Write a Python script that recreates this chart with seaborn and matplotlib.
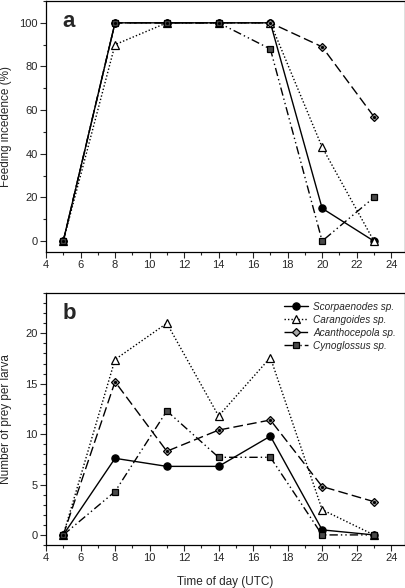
import matplotlib
matplotlib.use("Agg")
import matplotlib.pyplot as plt
from matplotlib.ticker import MultipleLocator
from matplotlib.lines import Line2D
import seaborn as sns
import pandas as pd

hours = [5, 8, 11, 14, 17, 20, 23]
species = ["Scorpaenodes sp.", "Carangoides sp.", "Acanthocepola sp.", "Cynoglossus sp."]

feed_scorpaenodes = [0, 100, 100, 100, 100, 15, 0]
feed_carangoides = [0, 90, 100, 100, 100, 43, 0]
feed_acanthocepola = [0, 100, 100, 100, 100, 89, 57]
feed_cynoglossus = [0, 100, 100, 100, 88, 0, 20]

prey_scorpaenodes = [0, 7.6, 6.8, 6.8, 9.8, 0.5, 0]
prey_carangoides = [0, 17.4, 21.0, 11.8, 17.6, 2.5, 0]
prey_acanthocepola = [0, 15.2, 8.3, 10.4, 11.4, 4.8, 3.3]
prey_cynoglossus = [0, 4.3, 12.3, 7.7, 7.7, 0, 0]

feed = [feed_scorpaenodes, feed_carangoides, feed_acanthocepola, feed_cynoglossus]
prey = [prey_scorpaenodes, prey_carangoides, prey_acanthocepola, prey_cynoglossus]

rows = []
for sp, fv, pv in zip(species, feed, prey):
    for h, f, p in zip(hours, fv, pv):
        rows.append({"species": sp, "hour": h, "feed": f, "prey": p})
df = pd.DataFrame(rows)

sns.set_theme(style="ticks")
plt.rcParams["font.family"] = ["Liberation Sans", "DejaVu Sans"]

styles = {
    "Scorpaenodes sp.": dict(ls="-", marker="o", mfc="black", ms=5.2, dashes=None),
    "Carangoides sp.": dict(ls=":", marker="^", mfc="white", ms=5.2, dashes=(1, 1.5)),
    "Acanthocepola sp.": dict(ls="--", marker="D", mfc="#a8a8a8", ms=4.3, dashes=(7, 3)),
    "Cynoglossus sp.": dict(ls="-.", marker="s", mfc="#4a4a4a", ms=4.3, dashes=(6, 2.2, 1, 2.2, 1, 2.2)),
}

fig = plt.figure(figsize=(4.06, 5.88), dpi=100)
axa = fig.add_axes([46/406, 1 - 252/588, 359/406, 251/588])
axb = fig.add_axes([46/406, 1 - 545/588, 359/406, 252/588])

def draw(ax, col):
    for sp in species:
        st = styles[sp]
        d = df[df.species == sp]
        sns.lineplot(data=d, x="hour", y=col, ax=ax, color="black", lw=1.0,
                     marker=st["marker"], markersize=st["ms"], markerfacecolor=st["mfc"],
                     markeredgecolor="black", markeredgewidth=0.9, label=sp, legend=False)
        ln = ax.lines[-1]
        if st["dashes"] is not None:
            ln.set_dashes(st["dashes"])
        if sp == "Acanthocepola sp.":
            ax.plot(d["hour"], d[col], ls="none", marker="o", ms=1.3, color="black", zorder=5)
    ax.set_xlim(4, 24.8)
    ax.xaxis.set_major_locator(MultipleLocator(2))
    ax.xaxis.set_minor_locator(MultipleLocator(1))
    ax.tick_params(axis="both", which="major", direction="out", length=4, width=0.8,
                   labelsize=8, top=False, right=False, pad=2)
    ax.tick_params(axis="both", which="minor", direction="out", length=2.5, width=0.8,
                   top=False, right=False)
    for s in ax.spines.values():
        s.set_linewidth(0.9)
        s.set_color("black")

draw(axa, "feed")
axa.set_ylim(-5, 110)
axa.yaxis.set_major_locator(MultipleLocator(20))
axa.yaxis.set_minor_locator(MultipleLocator(10))
axa.set_ylabel("Feeding incedence (%)", fontsize=8.5)
axa.yaxis.set_label_coords(-0.094, 0.5)
axa.set_xlabel("")
axa.text(0.047, 0.96, "a", transform=axa.transAxes, fontsize=16, fontweight="bold",
         va="top", ha="left")

draw(axb, "prey")
axb.set_ylim(-1, 24)
axb.yaxis.set_major_locator(MultipleLocator(5))
axb.yaxis.set_minor_locator(MultipleLocator(1))
axb.set_ylabel("Number of prey per larva", fontsize=8.5)
axb.yaxis.set_label_coords(-0.094, 0.5)
axb.set_xlabel("Time of day (UTC)", fontsize=8.5, labelpad=9)
axb.text(0.047, 0.96, "b", transform=axb.transAxes, fontsize=16, fontweight="bold",
         va="top", ha="left")

handles = []
for sp in species:
    st = styles[sp]
    h = Line2D([0], [0], color="black", lw=1.0, ls=st["ls"], marker=st["marker"],
               markersize=st["ms"], markerfacecolor=st["mfc"], markeredgecolor="black",
               markeredgewidth=0.9)
    if st["dashes"] is not None:
        h.set_dashes(st["dashes"])
    handles.append(h)
axb.legend(handles, species, loc="upper right", frameon=False,
           handlelength=2.4, handletextpad=0.5, labelspacing=0.3,
           borderaxespad=0.5, prop={"style": "italic", "size": 7.2})

fig.savefig("out.png", dpi=100)
